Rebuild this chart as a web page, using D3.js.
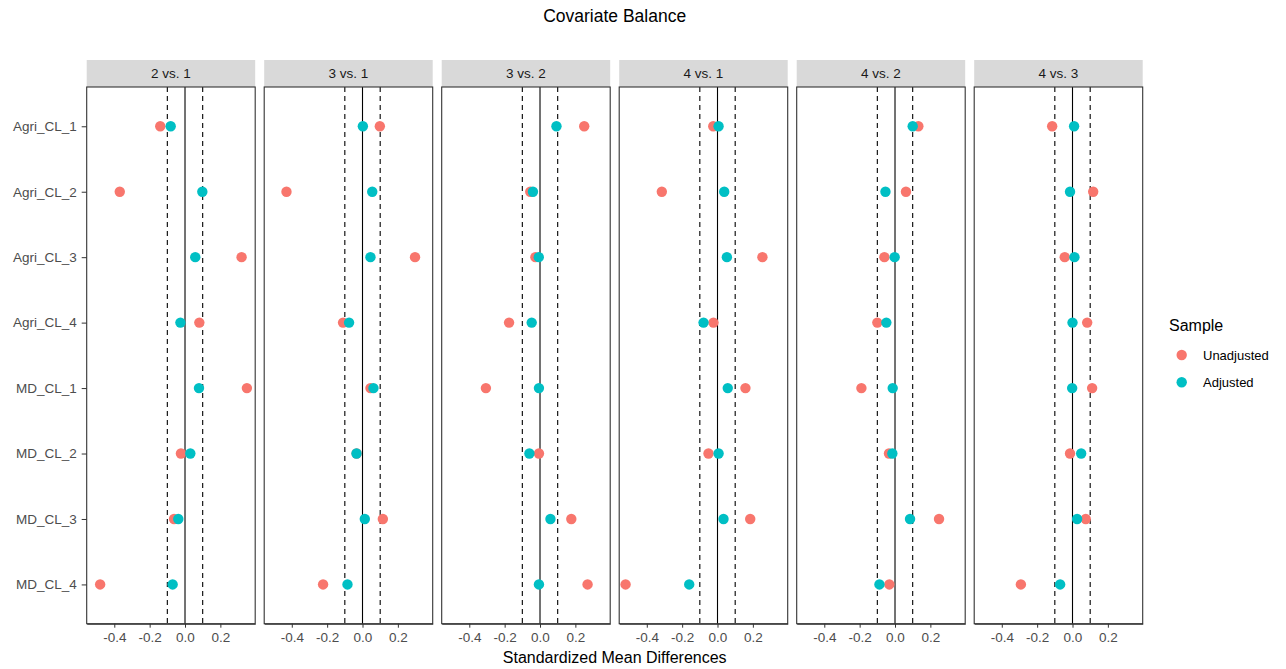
<!DOCTYPE html>
<html>
<head>
<meta charset="utf-8">
<script src="https://cdn.jsdelivr.net/npm/d3@7/dist/d3.min.js"></script>
<style>
  body { margin: 0; background: #fff; font-family: "Liberation Sans", Arial, sans-serif; }
</style>
</head>
<body>
<div id="chart"></div>
<script>
// Data
const covariates = ["Agri_CL_1", "Agri_CL_2", "Agri_CL_3", "Agri_CL_4", "MD_CL_1", "MD_CL_2", "MD_CL_3", "MD_CL_4"];
const contrasts = ["2 vs. 1", "3 vs. 1", "3 vs. 2", "4 vs. 1", "4 vs. 2", "4 vs. 3"];
const samples = ["Unadjusted", "Adjusted"];
const xTicks = [-0.4, -0.2, 0.0, 0.2];
const thresholds = [-0.1, 0.1];

// one array per contrast, values in covariate order
const unadjusted = {
  "2 vs. 1": [-0.140, -0.369, 0.320, 0.081, 0.350, -0.023, -0.062, -0.480],
  "3 vs. 1": [0.098, -0.430, 0.297, -0.110, 0.045, -0.033, 0.115, -0.223],
  "3 vs. 2": [0.250, -0.055, -0.026, -0.175, -0.306, -0.006, 0.177, 0.269],
  "4 vs. 1": [-0.024, -0.315, 0.254, -0.023, 0.158, -0.051, 0.185, -0.520],
  "4 vs. 2": [0.132, 0.062, -0.060, -0.100, -0.190, -0.034, 0.249, -0.032],
  "4 vs. 3": [-0.115, 0.117, -0.044, 0.083, 0.111, -0.014, 0.075, -0.292]
};
const adjusted = {
  "2 vs. 1": [-0.081, 0.098, 0.058, -0.026, 0.079, 0.030, -0.038, -0.070],
  "3 vs. 1": [0.002, 0.055, 0.045, -0.076, 0.062, -0.034, 0.013, -0.085],
  "3 vs. 2": [0.093, -0.040, -0.007, -0.047, -0.006, -0.060, 0.059, -0.006],
  "4 vs. 1": [0.006, 0.038, 0.053, -0.079, 0.058, 0.006, 0.034, -0.160],
  "4 vs. 2": [0.100, -0.054, -0.002, -0.049, -0.013, -0.015, 0.085, -0.088],
  "4 vs. 3": [0.009, -0.014, 0.011, 0.000, -0.002, 0.049, 0.026, -0.070]
};

// chart dimensions
const width = 1286;
const height = 669;
const panelLeft = 86.7;
const panelRight = 1142.7;
const panelTop = 87;
const panelBottom = 623.7;
const stripHeight = 27;

const points = [];
contrasts.forEach(c => {
  covariates.forEach((v, i) => {
    points.push({ contrast: c, covariate: v, sample: "Unadjusted", value: unadjusted[c][i] });
  });
  covariates.forEach((v, i) => {
    points.push({ contrast: c, covariate: v, sample: "Adjusted", value: adjusted[c][i] });
  });
});

const facet = d3.scaleBand()
  .domain(contrasts)
  .range([panelLeft, panelRight])
  .paddingInner(9 / 177.5);

const bw = facet.bandwidth();

const x = d3.scaleLinear()
  .domain([-0.556, 0.397])
  .range([0, bw]);

const y = d3.scalePoint()
  .domain(covariates)
  .range([panelTop, panelBottom])
  .padding(0.6);

const color = d3.scaleOrdinal()
  .domain(samples)
  .range(["#F8766D", "#00BFC4"]);

const svg = d3.select("#chart")
  .append("svg")
  .attr("width", width)
  .attr("height", height)
  .attr("viewBox", [0, 0, width, height]);

// Title
svg.append("text")
  .attr("x", (panelLeft + panelRight) / 2)
  .attr("y", 22)
  .attr("text-anchor", "middle")
  .attr("font-size", 17.5)
  .attr("fill", "#000")
  .text("Covariate Balance");

// Panels
const panel = svg.append("g")
  .selectAll("g")
  .data(contrasts)
  .join("g")
  .attr("transform", d => `translate(${facet(d)},0)`);

// strip
panel.append("rect")
  .attr("x", 0)
  .attr("y", panelTop - stripHeight)
  .attr("width", bw)
  .attr("height", stripHeight)
  .attr("fill", "#D9D9D9");

panel.append("text")
  .attr("x", bw / 2)
  .attr("y", panelTop - stripHeight / 2)
  .attr("dy", "0.35em")
  .attr("text-anchor", "middle")
  .attr("font-size", 13.5)
  .attr("fill", "#1A1A1A")
  .text(d => d);

// threshold and zero lines
panel.selectAll(".thr")
  .data(thresholds)
  .join("line")
  .attr("class", "thr")
  .attr("x1", d => x(d))
  .attr("x2", d => x(d))
  .attr("y1", panelTop)
  .attr("y2", panelBottom)
  .attr("stroke", "#000")
  .attr("stroke-width", 1.1)
  .attr("stroke-dasharray", "5,4");

panel.append("line")
  .attr("x1", x(0))
  .attr("x2", x(0))
  .attr("y1", panelTop)
  .attr("y2", panelBottom)
  .attr("stroke", "#000")
  .attr("stroke-width", 1.1);

// points
panel.selectAll("circle")
  .data(c => points.filter(p => p.contrast === c))
  .join("circle")
  .attr("cx", d => x(d.value))
  .attr("cy", d => y(d.covariate))
  .attr("r", 5.2)
  .attr("fill", d => color(d.sample));

// panel border
panel.append("rect")
  .attr("x", 0)
  .attr("y", panelTop)
  .attr("width", bw)
  .attr("height", panelBottom - panelTop)
  .attr("fill", "none")
  .attr("stroke", "#333")
  .attr("stroke-width", 1.1);

// x axis on each panel
panel.append("g")
  .attr("transform", `translate(0,${panelBottom})`)
  .call(d3.axisBottom(x).tickValues(xTicks).tickSize(4).tickSizeOuter(0))
  .call(g => g.select(".domain").attr("stroke", "#333").attr("stroke-width", 1.1))
  .call(g => g.selectAll(".tick line").attr("stroke", "#333"))
  .call(g => g.selectAll(".tick text")
    .attr("font-size", 13.5)
    .attr("font-family", "Liberation Sans, Arial, sans-serif")
    .attr("fill", "#4D4D4D")
    .attr("dy", "0.85em")
    .text(d => d3.format(".1f")(d).replace("−", "-")));

// y axis (left only)
svg.append("g")
  .attr("transform", `translate(${panelLeft},0)`)
  .call(d3.axisLeft(y).tickSize(5).tickSizeOuter(0))
  .call(g => g.select(".domain").remove())
  .call(g => g.selectAll(".tick line").attr("stroke", "#333"))
  .call(g => g.selectAll(".tick text")
    .attr("font-size", 13.5)
    .attr("font-family", "Liberation Sans, Arial, sans-serif")
    .attr("fill", "#4D4D4D")
    .attr("x", -10));

// x axis title
svg.append("text")
  .attr("x", (panelLeft + panelRight) / 2)
  .attr("y", 663)
  .attr("text-anchor", "middle")
  .attr("font-size", 16)
  .attr("fill", "#000")
  .text("Standardized Mean Differences");

// legend
const legend = svg.append("g")
  .attr("transform", "translate(1169,0)");

legend.append("text")
  .attr("x", 0)
  .attr("y", 331)
  .attr("font-size", 16)
  .attr("fill", "#000")
  .text("Sample");

const item = legend.selectAll(".item")
  .data(samples)
  .join("g")
  .attr("class", "item")
  .attr("transform", (d, i) => `translate(0,${355 + i * 27.3})`);

item.append("circle")
  .attr("cx", 12.7)
  .attr("cy", 0)
  .attr("r", 5.2)
  .attr("fill", d => color(d));

item.append("text")
  .attr("x", 34)
  .attr("y", 0)
  .attr("dy", "0.35em")
  .attr("font-size", 13)
  .attr("fill", "#000")
  .text(d => d);
</script>
</body>
</html>
